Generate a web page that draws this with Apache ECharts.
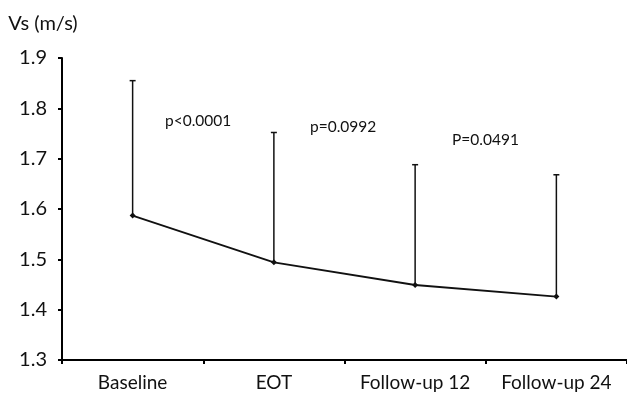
<!DOCTYPE html>
<html>
<head>
<meta charset="utf-8">
<script src="https://cdn.jsdelivr.net/npm/echarts@6/dist/echarts.min.js"></script>
<style>html,body{margin:0;padding:0;background:#fff;}#c{width:627px;height:396px;}</style>
</head>
<body>
<div id="c"></div>
<script>
const categories = ['Baseline', 'EOT', 'Follow-up 12', 'Follow-up 24'];
const meanValues = [1.587, 1.494, 1.449, 1.426];
const upperValues = [1.855, 1.752, 1.688, 1.668];
const yTicks = [1.3, 1.4, 1.5, 1.6, 1.7, 1.8, 1.9];
const pLabels = ['p<0.0001', 'p=0.0992', 'P=0.0491'];

const FONT = 'Lato';
const chart = echarts.init(document.getElementById('c'), null, {renderer: 'canvas'});

const errData = categories.map((c, i) => [i, meanValues[i], upperValues[i]]);

chart.setOption({
  animation: false,
  backgroundColor: '#fff',
  grid: {left: 62, right: 0, top: 58, bottom: 36, containLabel: false},
  xAxis: {
    type: 'category',
    data: categories,
    boundaryGap: true,
    axisLine: {lineStyle: {color: '#000', width: 2}},
    axisTick: {show: true, length: 4, interval: 0, lineStyle: {color: '#000', width: 2}},
    axisLabel: {color: '#111', fontFamily: FONT, fontSize: 19, margin: 13, interval: 0, hideOverlap: false},
    splitLine: {show: false}
  },
  yAxis: {
    type: 'value',
    min: yTicks[0],
    max: yTicks[yTicks.length - 1],
    interval: 0.1,
    name: 'Vs (m/s)',
    nameLocation: 'end',
    nameGap: 24,
    nameTextStyle: {color: '#111', fontFamily: FONT, fontSize: 20, align: 'center', padding: [0, 38, 0, 0]},
    axisLine: {show: true, lineStyle: {color: '#000', width: 2}},
    axisTick: {show: true, length: 4, lineStyle: {color: '#000', width: 2}},
    axisLabel: {color: '#111', fontFamily: FONT, fontSize: 20, margin: 15, formatter: v => v.toFixed(1)},
    splitLine: {show: false}
  },
  series: [
    {
      type: 'custom',
      data: errData,
      z: 2,
      renderItem: function (params, api) {
        const lo = api.coord([api.value(0), api.value(1)]);
        const hi = api.coord([api.value(0), api.value(2)]);
        const style = {stroke: '#111', lineWidth: 1.5};
        return {
          type: 'group',
          children: [
            {type: 'line', shape: {x1: lo[0], y1: lo[1], x2: hi[0], y2: hi[1]}, style: style},
            {type: 'line', shape: {x1: hi[0] - 3, y1: hi[1], x2: hi[0] + 3, y2: hi[1]}, style: style}
          ]
        };
      }
    },
    {
      type: 'line',
      data: meanValues,
      z: 3,
      symbol: 'diamond',
      symbolSize: 6,
      lineStyle: {color: '#111', width: 1.8},
      itemStyle: {color: '#111'}
    }
  ],
  graphic: [
    {type: 'text', left: 165, top: 113, style: {text: pLabels[0], font: '15.5px ' + FONT, fill: '#111'}},
    {type: 'text', left: 310, top: 119, style: {text: pLabels[1], font: '15.5px ' + FONT, fill: '#111'}},
    {type: 'text', left: 452, top: 132, style: {text: pLabels[2], font: '15.5px ' + FONT, fill: '#111'}}
  ]
});
</script>
</body>
</html>
